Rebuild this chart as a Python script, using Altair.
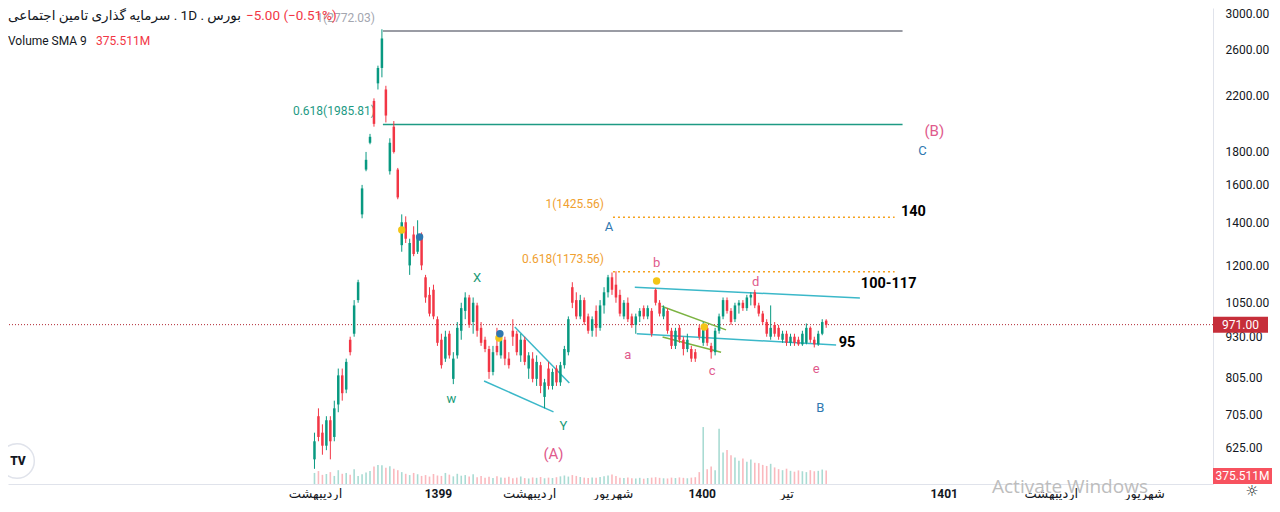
import altair as alt
import pandas as pd

# ---------------- candles (bar index 0..129) ----------------
opens = [600, 700, 660, 630, 690, 650, 730, 810, 770, 920,
         940, 1060, 1440, 1690, 1860, 2160, 2300, 2430, 2250, 1680,
         1970, 1690, 1290, 1400, 1200, 1340, 1260, 1340, 1150, 1080,
         1100, 990, 920, 860, 940, 800, 870, 950, 1020, 1070,
         980, 1040, 960, 920, 890, 820, 900, 870, 920, 860,
         950, 940, 870, 920, 830, 860, 800, 840, 750, 830,
         780, 830, 790, 840, 880, 1110, 1060, 1000, 1060, 1000,
         950, 1020, 960, 1040, 1090, 1150, 1120, 1080, 1000, 1050,
         1000, 970, 1000, 1030, 1000, 1020, 1100, 1050, 1000, 1020,
         950, 900, 960, 920, 890, 890, 880, 960, 910, 960,
         900, 880, 950, 1000, 1060, 1020, 990, 1040, 1050, 1030,
         1070, 1090, 1040, 1010, 980, 930, 970, 960, 920, 940,
         910, 930, 920, 905, 910, 960, 920, 905, 940, 985]
highs = [660, 720, 680, 700, 700, 740, 830, 830, 860, 930,
         1060, 1140, 1600, 1800, 1920, 2180, 2450, 2790, 2280, 1890,
         2010, 1700, 1440, 1430, 1320, 1380, 1410, 1350, 1160, 1110,
         1120, 1000, 940, 950, 950, 880, 980, 1050, 1090, 1080,
         1070, 1050, 980, 930, 900, 900, 960, 940, 930, 880,
         990, 950, 940, 930, 880, 880, 870, 850, 800, 850,
         830, 840, 850, 900, 1000, 1130, 1090, 1080, 1070, 1010,
         1000, 1040, 1060, 1110, 1160, 1170, 1175, 1100, 1060, 1070,
         1010, 1010, 1030, 1040, 1040, 1030, 1105, 1060, 1040, 1030,
         960, 960, 970, 930, 940, 900, 890, 970, 980, 970,
         910, 960, 1010, 1070, 1070, 1030, 1050, 1060, 1060, 1080,
         1090, 1100, 1050, 1020, 990, 1040, 980, 970, 950, 950,
         940, 940, 930, 950, 975, 965, 930, 950, 990, 990]
lows = [580, 640, 610, 620, 600, 640, 710, 740, 760, 870,
        930, 1050, 1420, 1680, 1850, 1970, 2250, 2350, 2000, 1660,
        1790, 1520, 1260, 1300, 1160, 1240, 1250, 1180, 1050, 1000,
        990, 900, 830, 850, 860, 785, 860, 920, 990, 960,
        940, 930, 900, 880, 800, 810, 870, 860, 840, 830,
        900, 870, 850, 840, 800, 790, 780, 760, 720, 770,
        770, 780, 780, 830, 870, 1030, 990, 990, 970, 940,
        930, 930, 950, 1010, 1070, 1080, 1050, 1000, 990, 980,
        960, 940, 980, 990, 990, 930, 1040, 1000, 990, 940,
        890, 890, 910, 870, 880, 850, 850, 920, 900, 900,
        860, 870, 940, 990, 1010, 970, 980, 1010, 1020, 1020,
        1040, 1030, 1000, 970, 930, 920, 930, 920, 910, 900,
        900, 900, 900, 900, 905, 910, 895, 900, 935, 960]
closes = [640, 650, 630, 690, 640, 720, 810, 760, 850, 880,
          1040, 1130, 1580, 1750, 1900, 1990, 2430, 2700, 2050, 1860,
          1800, 1530, 1400, 1320, 1300, 1250, 1330, 1200, 1070, 1010,
          1000, 910, 840, 930, 870, 860, 960, 1030, 1070, 970,
          1050, 950, 910, 890, 820, 880, 880, 920, 860, 840,
          930, 880, 920, 850, 870, 800, 850, 780, 790, 780,
          820, 790, 840, 890, 990, 1050, 1000, 1060, 980, 950,
          990, 960, 1040, 1090, 1150, 1100, 1070, 1010, 1050, 990,
          970, 1000, 1020, 1000, 1030, 940, 1050, 1010, 1030, 950,
          900, 950, 920, 890, 920, 860, 860, 930, 970, 910,
          880, 950, 1000, 1060, 1020, 980, 1040, 1050, 1030, 1070,
          1080, 1040, 1010, 980, 940, 960, 940, 930, 940, 910,
          930, 910, 905, 940, 960, 920, 905, 940, 980, 971]
volumes_m = [520, 610, 430, 470, 560, 380, 650, 480, 520, 430, 700,
             380, 460, 540, 610, 820, 900, 880, 760, 840, 720, 650,
             560, 480, 420, 520, 460, 380, 420, 350, 470, 400, 380, 520, 440, 360, 480, 390, 420, 350, 460,
             320, 380, 300, 340, 280, 360, 310, 290, 340, 270, 300, 350, 280, 260, 310, 290, 330, 270, 300, 280, 320, 360, 400, 350,
             420, 380, 330, 300, 280, 310, 290, 330, 360, 400, 450, 380, 300, 280, 310, 270, 260, 290, 250, 280, 300, 320, 290, 270, 260, 300, 280, 310, 290, 270, 300, 320,
             560, 2680, 700, 820, 650, 2600, 1480, 1600, 1350, 1250, 1100, 1200, 1050, 1150, 1000, 980, 900, 850, 950, 780,
             700, 650, 720, 620, 580, 640, 600, 560, 650, 600, 620, 680, 640]

# ---------------- axes text ----------------
xlabel_pos = [0.25, 31.25, 54.25, 75.25, 97.75, 119, 158.75, 185.75, 209.25]
xlabel_txt = ["اردیبهشت", "1399", "اردیبهشت", "شهریور", "1400", "تیر", "1401", "اردیبهشت", "شهریور"]
xlabel_bold = [False, True, False, False, True, False, True, False, False]
price_ticks = [625, 705, 805, 930, 1050, 1200, 1400, 1600, 1800, 2200, 2600, 3000]
last_price = 971
vol_sma = 375.511

# ---------------- drawings ----------------
fib_i = [17.25, 17.25, 75.25, 75.25]
fib_i2 = [148.25, 148.25, 146.25, 146.25]
fib_p = [2772.03, 1985.81, 1425.56, 1173.56]
fib_t = ["1(2772.03)", "0.618(1985.81)", "1(1425.56)", "0.618(1173.56)"]
fib_lbl_i = [15.25, 15.25, 73, 73]

wave_i = [41, 34.5, 62.75, 60.25, 74.25, 79, 86.25, 100.25, 111.25, 126.5, 127.5, 156.25, 153.25]
wave_p = [1147, 744, 676, 612, 1376, 871, 1210, 823, 1131, 829, 721, 1940, 1806]
wave_t = ["X", "w", "Y", "(A)", "A", "a", "b", "c", "d", "e", "B", "(B)", "C"]
wave_kind = ["g", "g", "g", "p", "b", "p", "p", "p", "p", "p", "b", "p", "b"]

target_i = [151, 144.75, 134.25]
target_p = [1452, 1123, 909]
target_t = ["140", "100-117", "95"]

dot_i = [22, 26.5, 46.5, 46.75, 86.25, 98.25]
dot_p = [1362, 1328, 926, 940, 1135, 963]
dot_kind = ["y", "b", "y", "b", "y", "y"]

trend_i = [42.75, 50.5, 80.75, 81.25, 87.5, 87.75]
trend_p = [794, 963, 1110, 940, 1037, 929]
trend_i2 = [60.25, 64.25, 137.5, 131.5, 103.75, 102.5]
trend_p2 = [711, 788, 1068, 903, 953, 880]
trend_kind = ["c", "c", "c", "c", "g", "g"]

# header: symbol name, interval, exchange (LRM marks keep the visual order)
header_text = "سرمایه گذاری تامین اجتماعی\u200e . 1D . \u200eبورس"

UP, DOWN = "#089981", "#f23645"
FONT = "Roboto, DejaVu Sans, sans-serif"
kind_col = {"g": "#1a9b77", "p": "#e05a8c", "b": "#2f78b0", "y": "#f3c516",
            "c": "#3bb8c9"}

n = len(closes)
df = pd.DataFrame({"i": list(range(n)), "open": opens, "high": highs, "low": lows,
                   "close": closes, "vol": volumes_m})
df["col"] = [UP if c >= o else DOWN for o, c in zip(opens, closes)]

xscale = alt.Scale(domain=[-76, 225.25], nice=False, zero=False)
xaxis = alt.Axis(labels=False, ticks=False, grid=False, title=None, domainColor="#e0e3eb")
yscale = alt.Scale(type="log", domain=[549.4, 3010.7], nice=False, zero=False)
vscale = alt.Scale(domain=[0, 22400], nice=False, zero=True)


def X(f="i"):
    return alt.X(f + ":Q", scale=xscale, axis=xaxis)


def Y(f):
    return alt.Y(f + ":Q", scale=yscale, axis=None)


yaxis = alt.Axis(orient="right", values=price_ticks, format=".2f", ticks=False, grid=False,
                 title=None, labelPadding=12, labelFontSize=12, labelColor="#131722",
                 domainColor="#e0e3eb", labelFont=FONT, labelFlush=6)

base = alt.Chart(df)
price_line = alt.Chart(pd.DataFrame({"p": [last_price]})).mark_rule(
    color="#b22833", strokeDash=[1, 2], strokeWidth=1).encode(y=Y("p"))
vol = base.mark_bar(size=1.6, opacity=0.35).encode(
    x=X(), y=alt.Y("vol:Q", scale=vscale, axis=None), color=alt.Color("col:N", scale=None))
wick = base.mark_rule(strokeWidth=1).encode(
    x=X(), y=alt.Y("low:Q", scale=yscale, axis=yaxis), y2="high:Q",
    color=alt.Color("col:N", scale=None))
body = base.mark_bar(size=2.5).encode(
    x=X(), y=Y("open"), y2="close", color=alt.Color("col:N", scale=None))

fib = pd.DataFrame({"i": fib_i, "i2": fib_i2, "p": fib_p, "t": fib_t, "li": fib_lbl_i,
                    "c": ["#787b86", "#1e9a84", "#f5a11e", "#f5a11e"],
                    "tc": ["#a3a6af", "#1e9a84", "#f0a030", "#f0a030"]})
fib_solid = alt.Chart(fib.iloc[:2]).mark_rule(strokeWidth=1.5).encode(
    x=X(), x2="i2:Q", y=Y("p"), color=alt.Color("c:N", scale=None))
fib_dot = alt.Chart(fib.iloc[2:]).mark_rule(strokeWidth=1.5, strokeDash=[2, 3]).encode(
    x=X(), x2="i2:Q", y=Y("p"), color=alt.Color("c:N", scale=None))
fib_txt = alt.Chart(fib).mark_text(align="right", baseline="middle", dy=-13, fontSize=12,
                                   font=FONT).encode(
    x=X("li"), y=Y("p"), text="t:N", color=alt.Color("tc:N", scale=None))

tr = pd.DataFrame({"i": trend_i, "i2": trend_i2, "p": trend_p, "p2": trend_p2,
                   "c": [kind_col["c"] if k == "c" else "#7cb342" for k in trend_kind]})
trends = alt.Chart(tr).mark_rule(strokeWidth=1.5).encode(
    x=X(), x2="i2:Q", y=Y("p"), y2="p2:Q", color=alt.Color("c:N", scale=None))

wv = pd.DataFrame({"i": wave_i, "p": wave_p, "t": wave_t,
                   "c": [kind_col[k] for k in wave_kind],
                   "s": [15 if t.startswith("(") else 13 for t in wave_t]})
waves = alt.Chart(wv).mark_text(baseline="middle", font=FONT).encode(
    x=X(), y=Y("p"), text="t:N", color=alt.Color("c:N", scale=None),
    size=alt.Size("s:Q", scale=None))

tg = pd.DataFrame({"i": target_i, "p": target_p, "t": target_t})
targets = alt.Chart(tg).mark_text(baseline="middle", fontSize=14.5, fontWeight="bold",
                                  font=FONT, color="#000000").encode(
    x=X(), y=Y("p"), text="t:N")

dt = pd.DataFrame({"i": dot_i, "p": dot_p, "c": [kind_col[k] for k in dot_kind]})
dots = alt.Chart(dt).mark_circle(size=55, opacity=1).encode(
    x=X(), y=Y("p"), color=alt.Color("c:N", scale=None))

# price and volume tags on the right scale
ptag = alt.Chart(pd.DataFrame({"p": [last_price], "t": ["971.00"]}))
ptag_box = ptag.mark_tick(orient="horizontal", size=55, thickness=16, color="#c62e3a",
                          opacity=1).encode(x=alt.value(1232.5), y=Y("p"))
ptag_txt = ptag.mark_text(color="white", fontSize=12, font=FONT, baseline="middle").encode(
    x=alt.value(1232.5), y=Y("p"), text="t:N")
vtag = alt.Chart(pd.DataFrame({"v": [vol_sma], "t": ["375.511M"]}))
vtag_box = vtag.mark_tick(orient="horizontal", size=59, thickness=16, color="#f7525f",
                          opacity=1).encode(x=alt.value(1234.5),
                                            y=alt.Y("v:Q", scale=vscale, axis=None))
vtag_txt = vtag.mark_text(color="white", fontSize=12, font=FONT, baseline="middle").encode(
    x=alt.value(1234.5), y=alt.Y("v:Q", scale=vscale, axis=None), text="t:N")

# bottom time labels
xl = pd.DataFrame({"i": xlabel_pos, "t": xlabel_txt, "b": xlabel_bold})
xl_norm = alt.Chart(xl[~xl["b"]]).mark_text(fontSize=13, font=FONT, color="#131722",
                                            baseline="middle").encode(
    x=X(), y=alt.value(486), text="t:N")
xl_bold = alt.Chart(xl[xl["b"]]).mark_text(fontSize=12, font=FONT, color="#131722",
                                           fontWeight="bold", baseline="middle").encode(
    x=X(), y=alt.value(486), text="t:N")

# header / legend texts
header = alt.Chart(pd.DataFrame({"t": [header_text]})).mark_text(
    align="left", baseline="middle", fontSize=13.5, font=FONT, color="#131722").encode(
    x=alt.value(0), y=alt.value(8), text="t:N")
chg = alt.Chart(pd.DataFrame({"t": ["−5.00 (−0.51%)"]})).mark_text(
    align="left", baseline="middle", fontSize=13.5, font=FONT, color="#f23645").encode(
    x=alt.value(238), y=alt.value(8), text="t:N")
vleg1 = alt.Chart(pd.DataFrame({"t": ["Volume SMA 9"]})).mark_text(
    align="left", baseline="middle", fontSize=12, font=FONT, color="#131722").encode(
    x=alt.value(0), y=alt.value(33), text="t:N")
vleg2 = alt.Chart(pd.DataFrame({"t": ["375.511M"]})).mark_text(
    align="left", baseline="middle", fontSize=12, font=FONT, color="#f23645").encode(
    x=alt.value(88), y=alt.value(33), text="t:N")

logo_c = alt.Chart(pd.DataFrame({"a": [0]})).mark_point(
    filled=True, fill="white", stroke="#e0e3eb", strokeWidth=1.5, size=1200, opacity=1).encode(
    x=alt.value(9), y=alt.value(453))
logo_t = alt.Chart(pd.DataFrame({"t": ["TV"]})).mark_text(
    fontSize=12, fontWeight=900, font=FONT, color="#131722", baseline="middle").encode(
    x=alt.value(10), y=alt.value(453), text="t:N")

wm = alt.Chart(pd.DataFrame({"t": ["Activate Windows"]})).mark_text(
    align="left", baseline="middle", fontSize=19, font="Open Sans", color="#bdbdbd").encode(
    x=alt.value(984), y=alt.value(479), text="t:N")
gear = alt.Chart(pd.DataFrame({"t": ["☼"]})).mark_text(
    fontSize=15, font="DejaVu Sans", color="#131722", baseline="middle").encode(
    x=alt.value(1244), y=alt.value(483), text="t:N")

chart = alt.layer(
    price_line, vol, fib_solid, fib_dot, fib_txt, trends, wick, body, dots, waves, targets,
    ptag_box, ptag_txt, vtag_box, vtag_txt, xl_norm, xl_bold, header, chg,
    vleg1, vleg2, logo_c, logo_t, wm, gear
).resolve_scale(y="independent").properties(
    width=1205, height=476,
    autosize=alt.AutoSizeParams(type="none"),
    padding={"left": 0, "top": 0, "right": 59, "bottom": 16},
    background="white"
).configure_view(stroke=None)

chart.save("out.html", embed_options={"renderer": "svg", "actions": False})
